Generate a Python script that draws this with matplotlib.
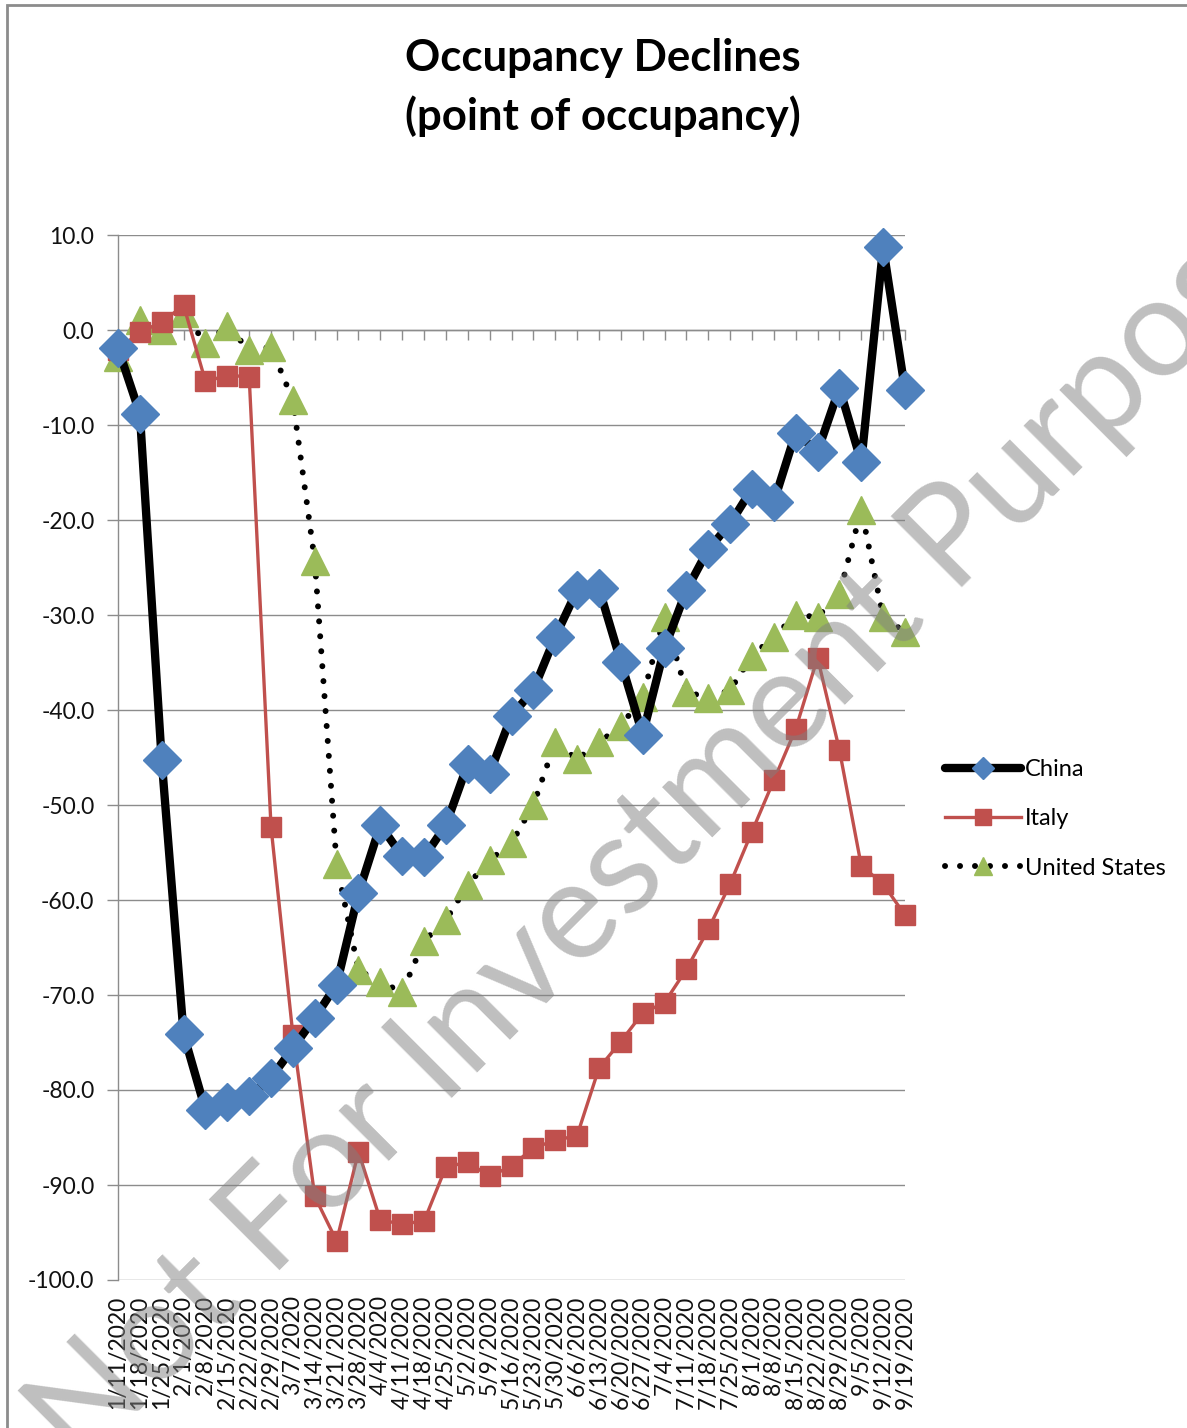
import math
import matplotlib
matplotlib.use("Agg")
import matplotlib.pyplot as plt
from matplotlib.lines import Line2D
import matplotlib.patches as mpatches

plt.rcParams['font.family'] = ['Lato', 'DejaVu Sans']

dates = ["1/11/2020", "1/18/2020", "1/25/2020", "2/1/2020", "2/8/2020", "2/15/2020",
         "2/22/2020", "2/29/2020", "3/7/2020", "3/14/2020", "3/21/2020", "3/28/2020",
         "4/4/2020", "4/11/2020", "4/18/2020", "4/25/2020", "5/2/2020", "5/9/2020",
         "5/16/2020", "5/23/2020", "5/30/2020", "6/6/2020", "6/13/2020", "6/20/2020",
         "6/27/2020", "7/4/2020", "7/11/2020", "7/18/2020", "7/25/2020", "8/1/2020",
         "8/8/2020", "8/15/2020", "8/22/2020", "8/29/2020", "9/5/2020", "9/12/2020",
         "9/19/2020"]

china = [-1.9, -8.8, -45.3, -74.1, -82.1, -81.3, -80.6, -78.7, -75.6, -72.4, -68.9, -59.3,
         -52.1, -55.4, -55.5, -52.1, -45.7, -46.7, -40.6, -37.9, -32.3, -27.4, -27.2, -34.9,
         -42.6, -33.5, -27.4, -23.1, -20.4, -16.7, -18.1, -10.8, -12.8, -6.1, -13.9, 8.7, -6.3]

italy = [-2.1, -0.2, 0.8, 2.6, -5.4, -4.8, -4.9, -52.3, -74.2, -91.2, -95.9, -86.5,
         -93.7, -94.1, -93.8, -88.1, -87.6, -89.1, -88.0, -86.1, -85.3, -84.8, -77.7, -74.9,
         -71.9, -70.8, -67.3, -63.1, -58.3, -52.8, -47.4, -42.0, -34.5, -44.2, -56.4, -58.3, -61.6]

us = [-2.8, 1.1, 0.0, 1.8, -1.4, 0.4, -2.1, -1.8, -7.4, -24.3, -56.2, -67.4,
      -68.6, -69.7, -64.3, -62.1, -58.4, -55.8, -54.0, -50.0, -43.4, -45.2, -43.4, -41.7,
      -38.6, -30.2, -38.1, -38.7, -37.9, -34.3, -32.3, -30.0, -30.2, -27.8, -18.9, -30.2, -31.8]

yticks = [10, 0, -10, -20, -30, -40, -50, -60, -70, -80, -90, -100]

series_names = ['China', 'Italy', 'United States']
watermark = "Not For Investment Purpose"

W, H = 1187, 1428
fig = plt.figure(figsize=(W / 100, H / 100), dpi=100)
fig.patch.set_facecolor('white')

# outer chart border (partially cropped in reference)
fig.add_artist(mpatches.Rectangle((7 / W, -0.1), 1.2, 1 - 5 / H + 0.1,
                                  transform=fig.transFigure, fill=False,
                                  edgecolor='#8c8c8c', linewidth=2.0))

ax = fig.add_axes([118 / W, 1 - 1280 / H, (905 - 118) / W, (1280 - 235) / H])
x = list(range(len(dates)))

grid_c = '#8c8c8c'
ax.set_ylim(-100, 10)
ax.set_xlim(0, len(dates) - 1)
ax.set_yticks(yticks)
ax.set_yticklabels([f"{v:.1f}" for v in yticks])
ax.yaxis.grid(True, color=grid_c, linewidth=1.0)
ax.set_axisbelow(True)
ax.tick_params(axis='y', direction='out', length=8, width=1, color=grid_c,
               labelsize=16.5, pad=9, labelcolor='#111111')

for s in ['top', 'right']:
    ax.spines[s].set_visible(False)
ax.spines['left'].set_color(grid_c)
ax.spines['left'].set_linewidth(1.0)
ax.spines['bottom'].set_position(('data', 0))
ax.spines['bottom'].set_color(grid_c)
ax.spines['bottom'].set_linewidth(1.0)
ax.set_xticks(x)
ax.tick_params(axis='x', direction='out', length=7, width=1, color=grid_c,
               labelbottom=False)

sec = ax.secondary_xaxis('bottom')
sec.set_xticks(x)
sec.set_xticklabels(dates, rotation=90, fontsize=16.5, color='#111111')
sec.tick_params(axis='x', length=0, pad=11)
sec.spines['bottom'].set_visible(False)

dot_style = (0, (0.01, 2.5))
ax.plot(x, us, color='black', linewidth=4.3, linestyle=dot_style,
        dash_capstyle='round', marker='^', markersize=20,
        markerfacecolor='#9BBB59', markeredgecolor='#9BBB59', zorder=3,
        label=series_names[2], clip_on=False)
ax.plot(x, italy, color='#C0504D', linewidth=2.4, marker='s', markersize=14,
        markerfacecolor='#C0504D', markeredgecolor='#C0504D', zorder=4,
        label=series_names[1], clip_on=False)
ax.plot(x, china, color='black', linewidth=6, marker='D', markersize=19,
        markerfacecolor='#4F81BD', markeredgecolor='#4F81BD', zorder=5,
        label=series_names[0], solid_joinstyle='round', clip_on=False)

handles = [
    Line2D([], [], color='black', linewidth=6, marker='D', markersize=11,
           markerfacecolor='#4F81BD', markeredgecolor='#4F81BD', solid_capstyle='round'),
    Line2D([], [], color='#C0504D', linewidth=2.4, marker='s', markersize=11,
           markerfacecolor='#C0504D', markeredgecolor='#C0504D'),
    Line2D([], [], color='black', linewidth=4.3, linestyle=dot_style,
           dash_capstyle='round', marker='^', markersize=13,
           markerfacecolor='#9BBB59', markeredgecolor='#9BBB59'),
]
fig.legend(handles, series_names,
           loc='upper left', bbox_to_anchor=(945 / W, 1 - 759 / H),
           frameon=False, fontsize=17, handlelength=3.2, handletextpad=0.2,
           labelspacing=1.2, borderaxespad=0, borderpad=0)

fig.text(603 / W, 1 - 58 / H, "Occupancy Declines", ha='center', va='center',
         fontsize=31.5, fontweight='bold', color='black')
fig.text(603 / W, 1 - 116 / H, "(point of occupancy)", ha='center', va='center',
         fontsize=31.5, fontweight='bold', color='black')

# watermark: place so that the "I" of "Investment" sits where it does in the reference
wm_size = 100
wm_angle = 45
renderer = fig.canvas.get_renderer()
t1 = fig.text(0, 0, "Not For I", fontsize=wm_size)
t2 = fig.text(0, 0, "I", fontsize=wm_size)
w_pre = t1.get_window_extent(renderer).width - t2.get_window_extent(renderer).width
t1.remove()
t2.remove()
ix, iy = 443, H - 1107
a = math.radians(wm_angle)
sx = ix - w_pre * math.cos(a)
sy = iy - w_pre * math.sin(a)
fig.text(sx / W, sy / H, watermark, ha='left', va='baseline',
         rotation=wm_angle, rotation_mode='anchor', fontsize=wm_size, color='#808080',
         alpha=0.5, zorder=10)

fig.savefig('out.png', dpi=100, facecolor='white')
